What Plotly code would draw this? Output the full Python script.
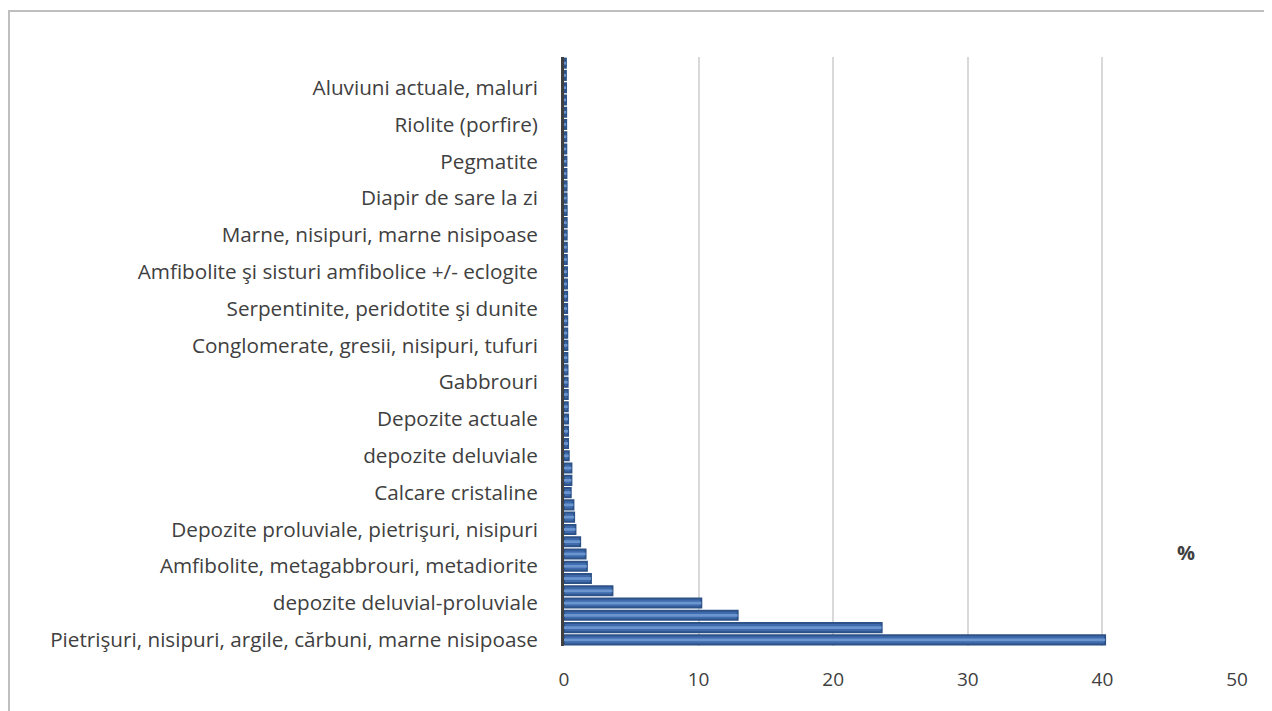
import plotly.graph_objects as go

# 48 categories, bottom (index 0) to top (index 47); every third one is labelled
values = [40.2, 23.6, 12.9, 10.2, 3.6, 2.0, 1.7, 1.6, 1.2, 0.85, 0.75, 0.7,
          0.5, 0.55, 0.55, 0.35, 0.3, 0.3, 0.3, 0.28, 0.28, 0.27, 0.26, 0.25,
          0.25, 0.24, 0.24, 0.23, 0.23, 0.22, 0.22, 0.21, 0.21, 0.2, 0.2, 0.2,
          0.19, 0.19, 0.18, 0.18, 0.17, 0.17, 0.16, 0.16, 0.15, 0.15, 0.14, 0.14]

label_positions = [0, 3, 6, 9, 12, 15, 18, 21, 24, 27, 30, 33, 36, 39, 42, 45]
labels = [
    "Pietrişuri, nisipuri, argile, cărbuni, marne nisipoase",
    "depozite deluvial-proluviale",
    "Amfibolite, metagabbrouri, metadiorite",
    "Depozite proluviale, pietrişuri, nisipuri",
    "Calcare cristaline",
    "depozite deluviale",
    "Depozite actuale",
    "Gabbrouri",
    "Conglomerate, gresii, nisipuri, tufuri",
    "Serpentinite, peridotite şi dunite",
    "Amfibolite şi sisturi amfibolice +/- eclogite",
    "Marne, nisipuri, marne nisipoase",
    "Diapir de sare la zi",
    "Pegmatite",
    "Riolite (porfire)",
    "Aluviuni actuale, maluri",
]
x_ticks = [0, 10, 20, 30, 40, 50]

positions = list(range(len(values)))

OFF = 8  # page body margin
W, H = 1272, 711
L, R, T, B = 564 - OFF, W - (1237 - OFF), 57 - OFF, H - (646 - OFF)
pw, ph = W - L - R, H - T - B


def px(x):
    return (x - OFF - L) / pw


def py(y):
    return (H - B - (y - OFF)) / ph


fig = go.Figure()
fig.add_trace(go.Bar(
    x=values, y=positions, orientation="h",
    marker=dict(color="#3F6BAD", line=dict(color="#2C5288", width=2)),
    width=0.74,
))
fig.add_trace(go.Bar(
    x=values, y=positions, orientation="h",
    marker=dict(color="#6B95CF", line=dict(width=0)),
    width=0.22,
))

fig.update_layout(
    width=W, height=H,
    margin=dict(l=L, r=R, t=T, b=B),
    paper_bgcolor="white", plot_bgcolor="white",
    showlegend=False,
    barmode="overlay",
    font=dict(family="Open Sans", size=20, color="#404040"),
    xaxis=dict(range=[0, 50], tickvals=x_ticks, showgrid=True, gridcolor="#D9D9D9",
               gridwidth=2, zeroline=False, showline=False, ticks="",
               tickfont=dict(size=19, color="#404040"), ticklabelstandoff=20),
    yaxis=dict(range=[-0.5, 47.5], tickvals=label_positions, ticktext=labels,
               showgrid=False, zeroline=False, showline=True, linecolor="#404040",
               linewidth=3, ticks="", tickfont=dict(size=20.7, color="#404040"),
               ticklabelstandoff=19),
    annotations=[dict(text="<b>%</b>", x=px(1186), y=py(552),
                      xref="paper", yref="paper", showarrow=False,
                      xanchor="center", yanchor="middle",
                      font=dict(size=20, color="#404040"))],
    shapes=[
        dict(type="line", xref="paper", yref="paper",
             x0=px(8), x1=px(W + 20), y0=py(11), y1=py(11),
             line=dict(color="#BFBFBF", width=2)),
        dict(type="line", xref="paper", yref="paper",
             x0=px(9), x1=px(9), y0=py(11), y1=py(H + 20),
             line=dict(color="#BFBFBF", width=2)),
    ],
)

fig.write_html("out.html")
